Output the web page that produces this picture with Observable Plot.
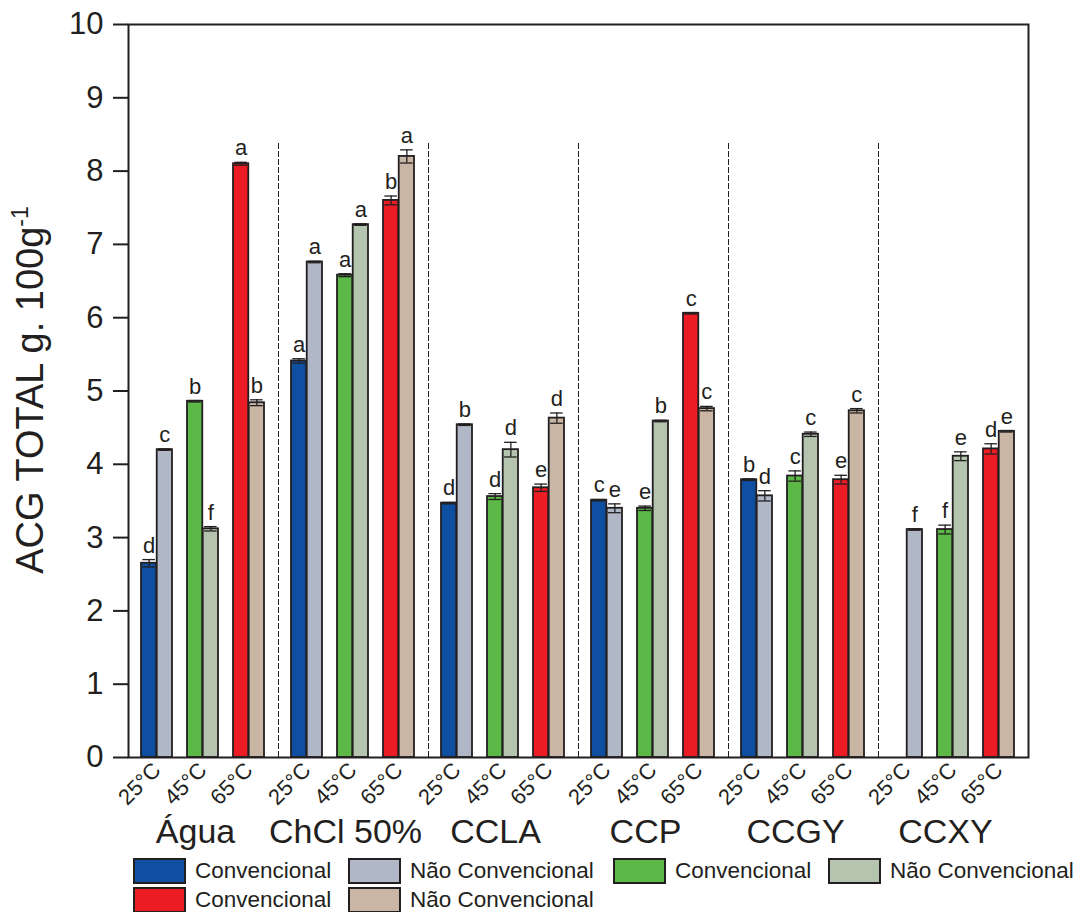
<!DOCTYPE html>
<html><head><meta charset="utf-8">
<script src="https://cdn.jsdelivr.net/npm/d3@7"></script>
<script src="https://cdn.jsdelivr.net/npm/@observablehq/plot@0.6"></script>
<style>
body{margin:0;background:#fff;font-family:"Liberation Sans",Arial,sans-serif;color:#231f20;overflow:hidden}
#legend{display:flex;flex-wrap:wrap;width:955px;padding-left:133px;row-gap:3px;margin-top:3px}
.item{display:flex;align-items:center;font-size:22.5px;height:26px;line-height:26px;white-space:nowrap}
.item.c{width:215px}.item.n{width:265px}.item.last{width:auto}
.sw{box-sizing:border-box;width:53px;height:26px;border:2px solid #231f20;margin-right:9px;flex:none}
</style></head>
<body><div id="chart"></div><div id="legend"></div>
<script>
const groups = ["Água", "ChCl 50%", "CCLA", "CCP", "CCGY", "CCXY"];
const temps = ["25°C", "45°C", "65°C"];
// values listed group by group, temps 25/45/65
const convValues = [2.65, 4.86, 8.10,  5.41, 6.58, 7.60,  3.47, 3.56, 3.68,  3.51, 3.40, 6.06,  3.79, 3.84, 3.79,  null, 3.11, 4.21];
const convErr    = [0.05, 0.01, 0.02,  0.03, 0.02, 0.06,  0.01, 0.04, 0.05,  0.01, 0.03, 0.01,  0.01, 0.07, 0.06,  null, 0.06, 0.07];
const convLetters= ["d", "b", "a",  "a", "a", "b",  "d", "d", "e",  "c", "e", "c",  "b", "c", "e",  "", "f", "d"];
const ncValues   = [4.20, 3.12, 4.84,  6.76, 7.27, 8.20,  4.54, 4.20, 4.63,  3.40, 4.59, 4.76,  3.57, 4.41, 4.73,  3.11, 4.11, 4.45];
const ncErr      = [0.01, 0.03, 0.04,  0.01, 0.01, 0.09,  0.01, 0.10, 0.07,  0.06, 0.01, 0.03,  0.07, 0.03, 0.03,  0.01, 0.06, 0.01];
const ncLetters  = ["c", "f", "b",  "a", "a", "a",  "b", "d", "d",  "e", "b", "c",  "d", "c", "c",  "f", "e", "e"];
const yTicks = [0, 1, 2, 3, 4, 5, 6, 7, 8, 9, 10];
const convColors = {"25°C": "#0e4fa1", "45°C": "#5cb947", "65°C": "#ec1c24"};
const ncColors   = {"25°C": "#b0b7c6", "45°C": "#b4c4ae", "65°C": "#c9b6a5"};
const typeLabels = ["Convencional", "Não Convencional"];

const conv = [], nc = [];
groups.forEach((g, gi) => temps.forEach((t, ti) => {
  const i = gi * 3 + ti;
  if (convValues[i] != null) conv.push({group: g, temp: t, value: convValues[i], err: convErr[i], letter: convLetters[i]});
  if (ncValues[i] != null) nc.push({group: g, temp: t, value: ncValues[i], err: ncErr[i], letter: ncLetters[i]});
}));

const W = 1088, H = 855, mL = 125, mR = 58;
const pIn = 0.326, pOut = 0.28;
const facetW = (W - mL - mR) / groups.length;
const step = facetW / (temps.length - pIn + 2 * pOut);
const bw = step * (1 - pIn), half = bw / 2, q = bw / 4;
const cap = 6.5;
const ink = "#231f20";

function series(data, colors, side) {
  const s = side < 0;
  const c = half + side * q; // center of the half bar within the band
  return [
    Plot.barY(data, {fx: "group", x: "temp", y: "value", fill: d => colors[d.temp], stroke: ink, strokeWidth: 1.8,
      insetLeft: s ? 0 : half, insetRight: s ? half : 0}),
    Plot.ruleX(data, {fx: "group", x: "temp", y1: d => d.value - d.err, y2: d => d.value + d.err, dx: side * q, stroke: ink, strokeWidth: 1.3}),
    Plot.tickY(data, {fx: "group", x: "temp", y: d => d.value + d.err, stroke: ink, strokeWidth: 1.3,
      insetLeft: c - cap, insetRight: bw - (c + cap)}),
    Plot.tickY(data, {fx: "group", x: "temp", y: d => d.value - d.err, stroke: ink, strokeWidth: 1.3,
      insetLeft: c - cap, insetRight: bw - (c + cap)}),
    Plot.text(data, {fx: "group", x: "temp", y: d => d.value + d.err, text: "letter", dx: side * q, dy: -7,
      lineAnchor: "bottom", fontSize: 22, fill: ink})
  ];
}

const plot = Plot.plot({
  width: W, height: H,
  marginLeft: mL, marginRight: mR, marginTop: 24, marginBottom: H - 757,
  style: {fontFamily: "'Liberation Sans', Arial, sans-serif", color: ink, background: "#fff"},
  fx: {domain: groups, padding: 0},
  x: {domain: temps, paddingInner: pIn, paddingOuter: pOut},
  y: {domain: [0, 10]},
  marks: [
    Plot.frame({anchor: "left", stroke: ink, strokeDasharray: "5,3", strokeWidth: 1, insetTop: 119}),
    ...series(conv, convColors, -1),
    ...series(nc, ncColors, 1),
    Plot.frame({facet: "super", stroke: ink, strokeWidth: 2}),
    Plot.axisY({ticks: yTicks, tickSize: 15, tickPadding: 10, fontSize: 31, label: null, stroke: ink, strokeWidth: 2}),
    Plot.axisX({tickSize: 0, tickPadding: 9, tickRotate: -45, fontSize: 22, label: null}),
    Plot.axisFx({anchor: "bottom", tickSize: 0, tickPadding: 61, fontSize: 34, label: null, dx: -8})
  ]
});
document.getElementById("chart").append(plot);

// y-axis title with superscript
const svg = d3.select(plot);
const t = svg.append("text")
  .attr("transform", "translate(43,390) rotate(-90)")
  .attr("text-anchor", "middle")
  .attr("font-size", 38).attr("fill", ink)
  .attr("font-family", "'Liberation Sans', Arial, sans-serif");
t.append("tspan").text("ACG TOTAL g. 100g");
t.append("tspan").attr("dy", -15).attr("font-size", 23).text("-1");

// legend
const legendItems = [
  [convColors["25°C"], typeLabels[0], "c"], [ncColors["25°C"], typeLabels[1], "n"],
  [convColors["45°C"], typeLabels[0], "c"], [ncColors["45°C"], typeLabels[1], "n last"],
  [convColors["65°C"], typeLabels[0], "c"], [ncColors["65°C"], typeLabels[1], "n"]
];
const lg = d3.select("#legend");
legendItems.forEach(([c, l, k]) => {
  const it = lg.append("div").attr("class", "item " + k);
  it.append("div").attr("class", "sw").style("background", c);
  it.append("span").text(l);
});
</script></body></html>
